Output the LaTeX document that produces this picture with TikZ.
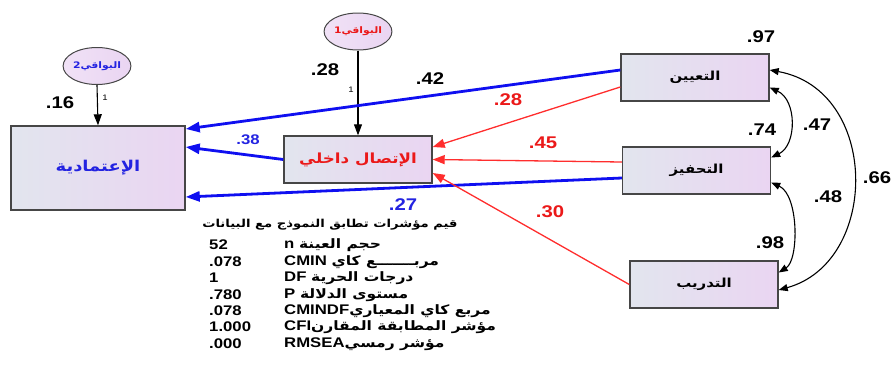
\documentclass[tikz,border=0pt]{standalone}
\usepackage{fontspec}
\setmainfont[FakeStretch=1.2]{Liberation Sans}
\newfontfamily\arabicfont[Script=Arabic, FakeStretch=1.2]{DejaVu Sans}
\TeXXeTstate=1
\usetikzlibrary{arrows.meta, shapes.geometric, positioning}
\definecolor{CaminoAzul}{RGB}{15, 15, 240}
\definecolor{CaminoRojo}{RGB}{255, 45, 45}
\definecolor{TextoAzul}{RGB}{35, 35, 225}
\definecolor{TextoRojo}{RGB}{235, 25, 25}
\definecolor{CajaIzq}{RGB}{226, 229, 238}
\definecolor{CajaDer}{RGB}{234, 213, 242}
\definecolor{Borde}{RGB}{70, 70, 70}
\newcommand{\artxt}[1]{{\arabicfont\fontsize{13}{15}\selectfont\beginR #1\endR}}

\begin{document}
\begin{tikzpicture}[
        x=1bp, y=-1bp,
        caja/.style={
            rectangle,
            draw=Borde,
            line width=1.4bp,
            left color=CajaIzq,
            right color=CajaDer,
            minimum width=148bp,
            minimum height=47bp,
            inner sep=0pt,
            font=\arabicfont\bfseries\fontsize{12.5}{15}\selectfont
        },
        residuo/.style={
            ellipse,
            draw=Borde,
            line width=1bp,
            left color=CajaDer!70!white,
            right color=CajaDer,
            minimum width=66bp,
            minimum height=37bp,
            inner sep=0pt,
            font=\arabicfont\bfseries\fontsize{9}{11}\selectfont
        },
        coef/.style={font=\bfseries\fontsize{17}{19}\selectfont, inner sep=0pt},
        uno/.style={font=\fontsize{8}{9}\selectfont, inner sep=0pt},
        fila/.style={anchor=west, inner sep=0pt, font=\bfseries\fontsize{14}{16}\selectfont},
        azul/.style={draw=CaminoAzul, line width=2.8bp, -{Triangle[length=14bp, width=10bp]}},
        rojo/.style={draw=CaminoRojo, line width=1.3bp, -{Triangle[length=12bp, width=9bp]}},
        fijo/.style={draw=black, line width=1.1bp, -{Triangle[length=11bp, width=8bp]}},
        cov/.style={draw=black, line width=1.1bp, {Triangle[length=9bp, width=7bp]}-{Triangle[length=9bp, width=7bp]}}
    ]
        \useasboundingbox (0,0) rectangle (893,369);

        % Variables
        \node[caja, minimum width=174bp, minimum height=84bp, text=TextoAzul, font=\arabicfont\bfseries\fontsize{15}{17}\selectfont] (itimad) at (98,168) {\beginR الإعتمادية\endR};
        \node[caja, text=TextoRojo, font=\arabicfont\bfseries\fontsize{14}{16}\selectfont] (ittisal) at (358,159.5) {\beginR الإتصال داخلي\endR};
        \node[caja] (tayin) at (695,77.5) {\beginR التعيين\endR};
        \node[caja] (tahfiz) at (696.5,170.5) {\beginR التحفيز\endR};
        \node[caja] (tadrib) at (704,284.5) {\beginR التدريب\endR};

        % Residuals
        \node[residuo, text=TextoAzul] (res2) at (97,66) {2\beginR البواقي\endR};
        \node[residuo, text=TextoRojo] (res1) at (358,31.5) {1\beginR البواقي\endR};
        \draw[fijo] (res2.south) -- (itimad.north);
        \draw[fijo] (res1.south) -- (ittisal.north);
        \node[uno] (uno2) at (105,98) {1};
        \node[uno] (uno1) at (351,90) {1};

        % Paths
        \draw[azul] ([yshift=7.5bp]tayin.west) -- ([yshift=39bp]itimad.east);
        \draw[rojo] ([yshift=-9.5bp]tayin.west) -- ([yshift=12.5bp]ittisal.east);
        \draw[rojo] ([yshift=8.5bp]tahfiz.west) -- (ittisal.east);
        \draw[azul] ([yshift=-7.5bp]tahfiz.west) -- ([yshift=-29bp]itimad.east);
        \draw[azul] (ittisal.west) -- ([yshift=21bp]itimad.east);
        \draw[rojo] (tadrib.west) -- ([yshift=-13.5bp]ittisal.east);

        % Covariances
        \draw[cov] ([yshift=-10bp]tayin.east) .. controls (797,100) and (797,145) .. ([yshift=13bp]tahfiz.east);
        \draw[cov] ([yshift=-12bp]tahfiz.east) .. controls (799,195) and (799,260) .. ([yshift=12bp]tadrib.east);
        \draw[cov] ([yshift=7.5bp]tayin.east) .. controls (880,90) and (880,262) .. ([yshift=-5.5bp]tadrib.east);

        % Coefficients
        \node[coef] (r2) at (60,103) {.16};
        \node[coef] (r1) at (325,70) {.28};
        \node[coef] (c42) at (430,79) {.42};
        \node[coef, text=TextoRojo] (c28) at (508,100) {.28};
        \node[coef, text=TextoRojo] (c45) at (543,143) {.45};
        \node[coef, text=TextoAzul, font=\bfseries\fontsize{14}{16}\selectfont] (c38) at (248,140) {.38};
        \node[coef, text=TextoAzul] (c27) at (403,205) {.27};
        \node[coef, text=TextoRojo] (c30) at (550,212) {.30};
        \node[coef] (v97) at (761,37) {.97};
        \node[coef] (v74) at (762,130) {.74};
        \node[coef] (c47) at (817,125) {.47};
        \node[coef] (c66) at (877,178) {.66};
        \node[coef] (c48) at (828,197) {.48};
        \node[coef] (v98) at (770,243) {.98};

        % Fit indices
        \node[inner sep=0pt, font=\arabicfont\bfseries\fontsize{11}{13}\selectfont] (titulo) at (330,225) {\beginR قيم مؤشرات تطابق النموذج مع البيانات\endR};
        \node[fila] (n1) at (209,245) {52};
        \node[fila] (n2) at (209,262) {.078};
        \node[fila] (n3) at (209,278) {1};
        \node[fila] (n4) at (209,295) {.780};
        \node[fila] (n5) at (209,311) {.078};
        \node[fila] (n6) at (209,327) {1.000};
        \node[fila] (n7) at (209,344) {.000};
        \node[fila] (i1) at (284,245) {n \artxt{حجم العينة}};
        \node[fila] (i2) at (284,262) {CMIN \artxt{مربـــــــع كاي}};
        \node[fila] (i3) at (284,278) {DF \artxt{درجات الحرية}};
        \node[fila] (i4) at (284,295) {P \artxt{مستوى الدلالة}};
        \node[fila] (i5) at (284,311) {CMINDF\artxt{مربع كاي المعياري}};
        \node[fila] (i6) at (284,327) {CFI\artxt{مؤشر المطابقة المقارن}};
        \node[fila] (i7) at (284,344) {RMSEA\artxt{مؤشر رمسي}};

    \end{tikzpicture}
\end{document}
